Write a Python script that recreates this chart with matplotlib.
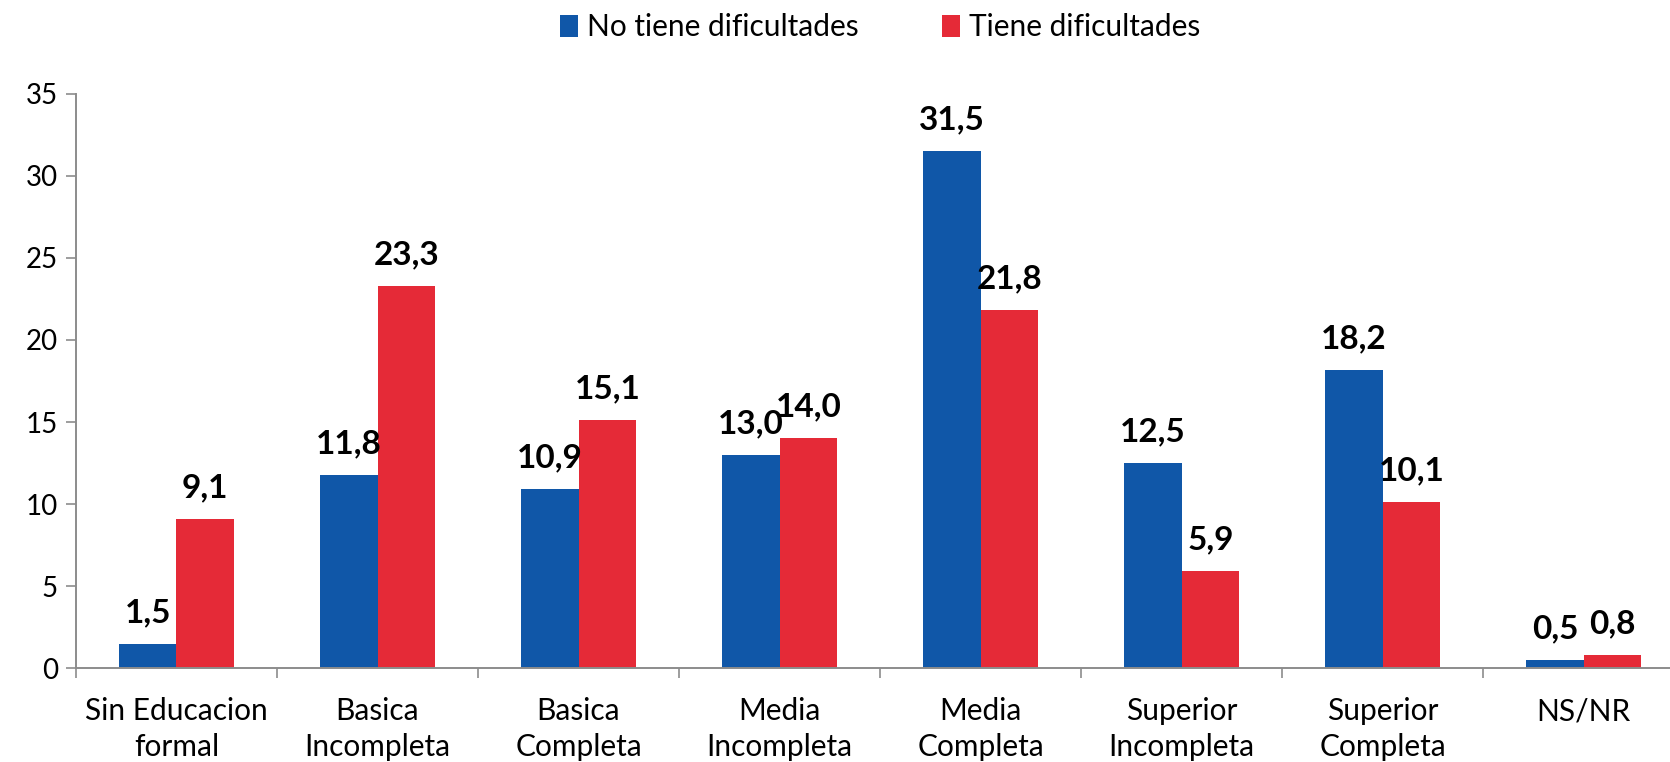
import matplotlib
matplotlib.use("Agg")
import matplotlib.pyplot as plt
import numpy as np

categories = ["Sin Educacion\nformal", "Basica\nIncompleta", "Basica\nCompleta",
              "Media\nIncompleta", "Media\nCompleta", "Superior\nIncompleta",
              "Superior\nCompleta", "NS/NR"]
no_tiene = [1.5, 11.8, 10.9, 13.0, 31.5, 12.5, 18.2, 0.5]
tiene = [9.1, 23.3, 15.1, 14.0, 21.8, 5.9, 10.1, 0.8]
series_names = ["No tiene dificultades", "Tiene dificultades"]

plt.rcParams['font.family'] = ['Lato', 'DejaVu Sans']

blue = "#1057a8"
red = "#e52a37"
axis_gray = "#8c8c8c"

fig = plt.figure(figsize=(16.7, 7.62), dpi=100)
# the category axis runs a little past the right edge, as in the original
ax = fig.add_axes([0.0455, 0.123, 0.963, 0.754])

x = np.arange(len(categories))
w = 0.286
b1 = ax.bar(x - w / 2, no_tiene, w, color=blue, label=series_names[0])
b2 = ax.bar(x + w / 2, tiene, w, color=red, label=series_names[1])

# value labels above the bars, comma decimals
for bars, vals in [(b1, no_tiene), (b2, tiene)]:
    for rect, v in zip(bars, vals):
        ax.annotate(f"{v:.1f}".replace(".", ","),
                    (rect.get_x() + rect.get_width() / 2, rect.get_height()),
                    xytext=(0, 12), textcoords="offset points",
                    ha="center", va="bottom", fontsize=24, fontweight="bold")

ax.set_xlim(-0.5, len(categories) - 0.5)
ax.set_ylim(0, 35)
ax.set_yticks(range(0, 36, 5))

# group boundary ticks, labels at group centres
ax.set_xticks(np.arange(-0.5, len(categories) + 0.5, 1))
ax.set_xticklabels([])
ax.set_xticks(x, minor=True)
ax.set_xticklabels(categories, minor=True, fontsize=21.5, linespacing=1.35)
ax.tick_params(axis="x", which="minor", length=0, pad=21)
ax.tick_params(axis="x", which="major", length=7, color=axis_gray, width=1.2)
ax.tick_params(axis="y", length=7, color=axis_gray, width=1.2, labelsize=20, pad=6)

for s in ["top", "right"]:
    ax.spines[s].set_visible(False)
for s in ["left", "bottom"]:
    ax.spines[s].set_color(axis_gray)
    ax.spines[s].set_linewidth(1.4)

fig.legend(loc="upper center", bbox_to_anchor=(0.527, 1.018), ncol=2, frameon=False,
           fontsize=21.5, handlelength=0.6, handleheight=0.75, handletextpad=0.3,
           columnspacing=2.8)

fig.savefig("out.png", dpi=100)
